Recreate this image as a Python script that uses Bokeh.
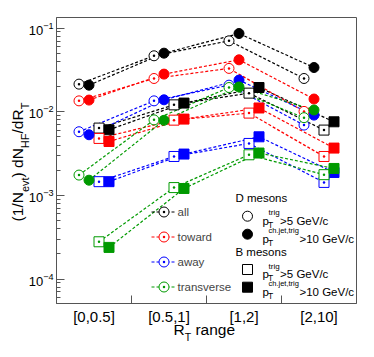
import numpy as np
from bokeh.plotting import figure
from bokeh.models import (Range1d, FixedTicker, Label, Legend, LegendItem, LinearAxis,
                          LinearScale)
from bokeh.embed import file_html
from bokeh.resources import INLINE

# ---------------- data ----------------
regions = ["[0,0.5]", "[0.5,1]", "[1,2]", "[2,10]"]
classes = ["all", "toward", "away", "transverse"]

# D mesons, pT trig > 5 GeV/c (open circles)
d_trig_all = [0.0214, 0.0467, 0.0705, 0.0250]
d_trig_toward = [0.0135, 0.0250, 0.0330, 0.0101]
d_trig_away = [0.00577, 0.0135, 0.0208, 0.00693]
d_trig_transverse = [0.00175, 0.0080, 0.0195, 0.0085]
# D mesons, pT ch.jet trig > 10 GeV/c (filled circles)
d_jet_all = [0.0208, 0.0502, 0.0862, 0.0338]
d_jet_toward = [0.0138, 0.0282, 0.0418, 0.0142]
d_jet_away = [0.00531, 0.0139, 0.0239, 0.00912]
d_jet_transverse = [0.00152, 0.0079, 0.0198, 0.0105]
# B mesons, pT trig > 5 GeV/c (open squares)
b_trig_all = [0.00638, 0.0121, 0.0167, 0.00604]
b_trig_toward = [0.0048, 0.00794, 0.00964, 0.00292]
b_trig_away = [0.00146, 0.00292, 0.00418, 0.00143]
b_trig_transverse = [0.000279, 0.00124, 0.00306, 0.00177]
# B mesons, pT ch.jet trig > 10 GeV/c (filled squares)
b_jet_all = [0.00609, 0.0127, 0.0195, 0.00759]
b_jet_toward = [0.00441, 0.00817, 0.0111, 0.00368]
b_jet_away = [0.00146, 0.00312, 0.00502, 0.00188]
b_jet_transverse = [0.000239, 0.00121, 0.00321, 0.0021]

series = {
    "all": [d_trig_all, d_jet_all, b_trig_all, b_jet_all],
    "toward": [d_trig_toward, d_jet_toward, b_trig_toward, b_jet_toward],
    "away": [d_trig_away, d_jet_away, b_trig_away, b_jet_away],
    "transverse": [d_trig_transverse, d_jet_transverse, b_trig_transverse, b_jet_transverse],
}
colors = {"all": "#000000", "toward": "#ff0000", "away": "#0000ff", "transverse": "#009a00"}

# ---------------- figure ----------------
FONT = "Liberation Sans"
W, H = 367, 349
ML, MR, MT, MB = 56, 11, 17, 46
YLO, YHI = 5.1e-5, 0.134
FL, FT = ML, MT
FW, FH = W - ML - MR, H - MT - MB
FB, FR = FT + FH, FL + FW

p = figure(width=W, height=H, y_axis_type="log",
           x_range=Range1d(0, 4), y_range=Range1d(YLO, YHI),
           output_backend="svg", toolbar_location=None,
           min_border_left=ML, min_border_right=MR, min_border_top=MT, min_border_bottom=MB)
p.grid.visible = False
p.outline_line_color = "#555555"
p.outline_line_width = 1
p.background_fill_color = "white"
p.border_fill_color = "white"

xa = p.xaxis[0]
xa.ticker = FixedTicker(ticks=[0.5, 1.5, 2.5, 3.5], minor_ticks=[1, 2, 3])
xa.major_label_overrides = {0.5: regions[0], 1.5: regions[1], 2.5: regions[2], 3.5: regions[3]}
xa.major_tick_in = 0
xa.major_tick_out = 0
xa.minor_tick_in = 8
xa.minor_tick_out = 0
xa.minor_tick_line_color = "#555555"
xa.axis_line_color = "#555555"
xa.major_label_text_font = FONT
xa.major_label_text_font_size = "15px"
xa.major_label_text_color = "black"
xa.major_label_standoff = 4

ya = p.yaxis[0]
ya.major_tick_in = 8
ya.major_tick_out = 0
ya.minor_tick_in = 4
ya.minor_tick_out = 0
ya.major_tick_line_color = "#555555"
ya.minor_tick_line_color = "#555555"
ya.axis_line_color = "#555555"
ya.major_label_text_font = FONT
ya.major_label_text_font_size = "13px"
ya.major_label_text_color = "black"
ya.major_label_standoff = 3

# ---------------- data glyphs ----------------
offsets = [-0.2, -1.0 / 15, 1.0 / 15, 0.2]
markers = ["circle_dot", "circle", "square_dot", "square"]
xc = np.arange(len(regions)) + 0.5

line_r = {}
scat_r = {}
for cls in classes:
    col = colors[cls]
    for k, vals in enumerate(series[cls]):
        line_r[(cls, k)] = p.line(xc + offsets[k], vals, line_color=col, line_width=1.2, line_dash="3 2")
for cls in classes:
    col = colors[cls]
    for k, vals in enumerate(series[cls]):
        filled = k in (1, 3)
        scat_r[(cls, k)] = p.scatter(xc + offsets[k], vals, marker=markers[k], size=10,
                                     line_color=col, line_width=1,
                                     fill_color=col if filled else "white")

# ---------------- helpers for annotation placement (page pixels) ----------------
LT, LB = np.log10(YHI), np.log10(YLO)


def dx(px):
    return (px - FL) / FW * 4.0


def dy(py):
    return 10 ** (LT - (py - FT) / FH * (LT - LB))


ADV = {" ": 278, "(": 333, ")": 333, "/": 278, "1": 556, "0": 556, "5": 556, "N": 722, "d": 556,
       "R": 722, "T": 611, "e": 556, "v": 500, "t": 278, "H": 722, "F": 611, "p": 556, "r": 333,
       "i": 222, "g": 556, "c": 500, "h": 556, ".": 278, "j": 222, ",": 278, ">": 584, "G": 778,
       "V": 667, "a": 556, "n": 556, "s": 500, "m": 833, "o": 556}


def tw(s, size):
    return sum(ADV.get(ch, 556) for ch in s) / 1000.0 * size


def put(text, px, py, size, angle=0.0, baseline="alphabetic", align="left"):
    p.add_layout(Label(x=dx(px), y=dy(py), text=text, angle=angle, text_font=FONT,
                       text_font_size=f"{size}px", text_color="black",
                       text_align=align, text_baseline=baseline))


# pixel-unit helper ranges so that axis-title pieces can sit outside the frame
p.extra_x_ranges = {"px": Range1d(FL, FR)}
p.extra_x_scales = {"px": LinearScale()}
p.extra_y_ranges = {"py": Range1d(FB, FT)}
p.extra_y_scales = {"py": LinearScale()}


def text_axis(side, centers, texts, size, standoff):
    kw = dict(ticker=FixedTicker(ticks=list(centers)),
              major_label_overrides={float(c): t for c, t in zip(centers, texts)},
              major_label_text_font=FONT, major_label_text_font_size=f"{size}px",
              major_label_text_color="black", major_label_standoff=int(round(standoff)),
              major_tick_in=0, major_tick_out=0, minor_tick_in=0, minor_tick_out=0,
              axis_line_color=None, major_tick_line_color=None, minor_tick_line_color=None)
    if side == "left":
        ax = LinearAxis(y_range_name="py", major_label_orientation="parallel", **kw)
    else:
        ax = LinearAxis(x_range_name="px", **kw)
    p.add_layout(ax, side)


# ---------------- y axis title (rotated, composed) ----------------
ypieces = [("(1/N", 0), ("evt", 1), (") dN", 0), ("HF", 1), ("/dR", 0), ("T", 1)]
MAIN, SUB = 15.5, 11
total = sum(tw(t, SUB if s else MAIN) for t, s in ypieces)
ycen = 161.5
cur = ycen + total / 2
mc, mt, sc, st = [], [], [], []
for t, s in ypieces:
    sz = SUB if s else MAIN
    w = tw(t, sz)
    if s:
        sc.append(cur - w / 2); st.append(t)
    else:
        mc.append(cur - w / 2); mt.append(t)
    cur -= w
# subscripts panel sits next to the tick-label panel, main text panel further out
text_axis("left", sc, st, SUB, -6)
text_axis("left", mc, mt, MAIN, -10)

# ---------------- x axis title ----------------
xr = 173.0
wR, wT = tw("R", 15.5), tw("T", 10.5)
text_axis("below", [xr + wR / 2, xr + wR + wT + tw(" ", 15.5) + tw("range", 15.5) / 2], ["R", "range"], 15.5, -7)
text_axis("below", [xr + wR + wT / 2], ["T"], 10.5, -10)

# ---------------- left legend ----------------
left_items = [LegendItem(label=cls, renderers=[line_r[(cls, 0)], scat_r[(cls, 0)]]) for cls in classes]
leg_left = Legend(items=left_items, location=(150.5 - FL, FB - 299.2),
                  glyph_width=25, glyph_height=25, spacing=-7, padding=0, margin=0,
                  label_standoff=2, label_text_font=FONT, label_text_font_size="11.5px",
                  label_height=15, border_line_color=None, background_fill_alpha=0)
p.add_layout(leg_left)

# ---------------- right legend (meson type / trigger) ----------------
key_y_px = [215.7, 233.7, 269.0, 286.7]
key_markers = ["circle", "circle", "square", "square"]
key_fill = ["white", "black", "white", "black"]
p.scatter(x=[dx(247)] * 4, y=[dy(v) for v in key_y_px], marker=key_markers, size=10,
          line_color="black", line_width=1, fill_color=key_fill)

put("D mesons", 235, 197.7, 11.5, baseline="middle")
put("B mesons", 235, 251.7, 11.5, baseline="middle")

rows = [(215.7, "trig", ">5 GeV/c", 8), (233.7, "ch.jet,trig", ">10 GeV/c", 7.5),
        (269.0, "trig", ">5 GeV/c", 8), (286.7, "ch.jet,trig", ">10 GeV/c", 7.5)]
for yc, sup, rest, ssz in rows:
    px0 = 262
    put("p", px0, yc + 4.3, 11.5)
    put("T", px0 + 5.6, yc + 8.8, 8.5)
    put(sup, px0 + 6.0, yc - 3.5, ssz)
    put(rest, px0 + 6.0 + tw(sup, ssz) + 0.5, yc + 4.3, 11.5)

open("out.html", "w").write(file_html(p, INLINE))
